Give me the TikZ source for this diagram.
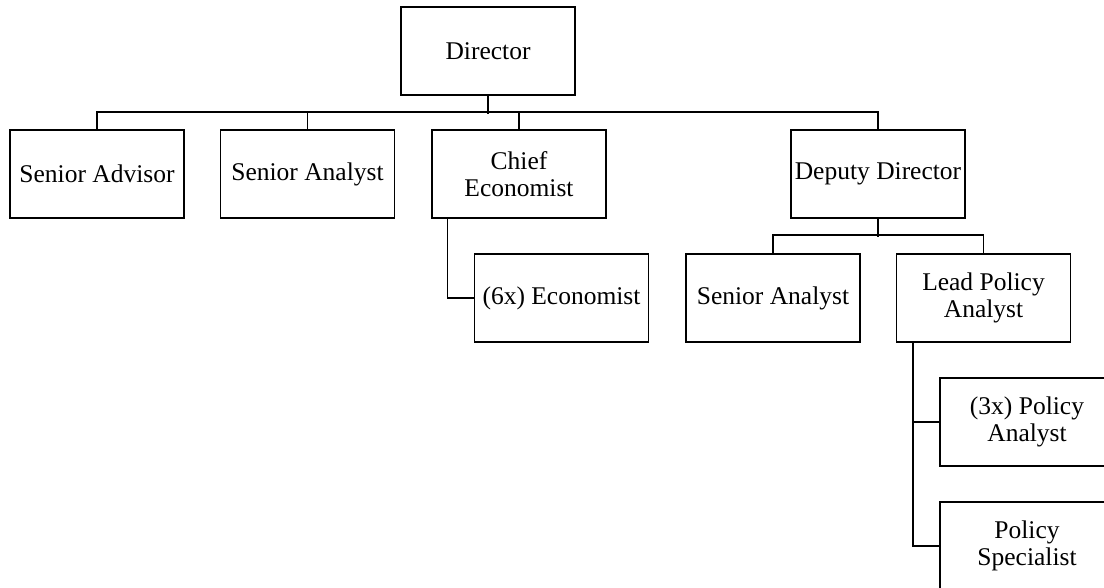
\documentclass[tikz,border=0pt]{standalone}
\usepackage{fontspec}
\setmainfont{Liberation Serif}
\begin{document}
\begin{tikzpicture}[x=1pt,y=-1pt,
  box/.style={draw, line width=1.6pt, minimum width=174pt, minimum height=88pt,
    inner sep=0pt, align=center, font=\fontsize{25.5}{27}\selectfont},
  link/.style={line width=1.5pt}]
\useasboundingbox (0,0) rectangle (1104,587);
\clip (0,0) rectangle (1104,587);
\node[box] (dir) at (488,51) {Director};
\node[box] (sadv) at (97,174) {Senior Advisor};
\node[box] (san) at (307.5,174) {Senior Analyst};
\node[box] (ce) at (519,174) {Chief\\Economist};
\node[box] (dd) at (878,174) {Deputy Director};
\node[box] (econ) at (561.5,298) {(6x) Economist};
\node[box] (san2) at (773,298) {Senior Analyst};
\node[box] (lpa) at (983.5,298) {Lead Policy\\Analyst};
\node[box] (pa) at (1027,422) {(3x) Policy\\Analyst};
\node[box] (pspec) at (1027,546) {Policy\\Specialist};
% top level bus
\draw[link] (dir.south) -- ++(0,18);
\draw[link] (sadv.north) -- ++(0,-17) -| (dd.north);
\draw[link] (san.north) -- ++(0,-17);
\draw[link] (ce.north) -- ++(0,-17);
% chief economist
\draw[link] ([xshift=-71.5pt]ce.south) |- (econ.west);
% deputy director
\draw[link] (dd.south) -- ++(0,18);
\draw[link] (san2.north) -- ++(0,-18) -| (lpa.north);
% lead policy analyst
\coordinate (lpaL) at ([xshift=-70.5pt]lpa.south);
\draw[link] (lpaL) |- (pspec.west);
\draw[link] (pa.west) -- (lpaL |- pa.west);
\end{tikzpicture}
\end{document}
